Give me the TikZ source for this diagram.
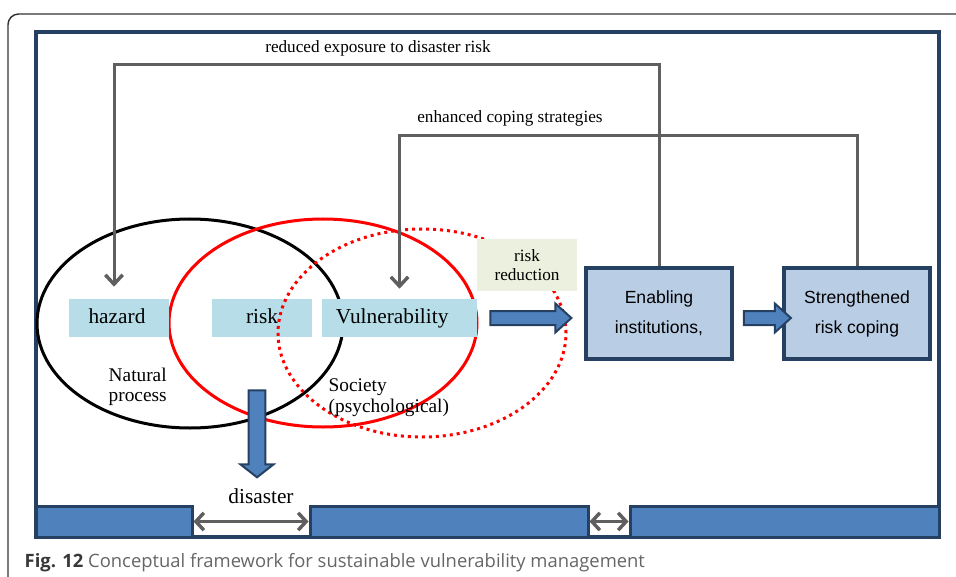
\documentclass[tikz,border=0pt]{standalone}
\usepackage{fontspec}
\setmainfont{Liberation Serif}
\setsansfont{Liberation Sans}
\newfontfamily\capfont{Open Sans}
\usetikzlibrary{arrows.meta,shapes.geometric,shapes.arrows}
\definecolor{navy}{RGB}{38,64,98}
\definecolor{barblue}{RGB}{79,129,189}
\definecolor{paleblue}{RGB}{183,222,232}
\definecolor{boxblue}{RGB}{185,205,229}
\definecolor{palegreen}{RGB}{235,241,222}
\definecolor{linegray}{RGB}{95,95,95}
\tikzset{
  tagbox/.style={fill=paleblue, minimum height=28.5pt, inner sep=0pt, text height=11pt, text depth=3.5pt, font=\fontsize{16}{18}\selectfont},
  stagebox/.style={draw=navy, fill=boxblue, line width=3pt, minimum width=109.5pt, minimum height=68.25pt, align=center, font=\sffamily\fontsize{13.2}{22.5}\selectfont},
  barbox/.style={draw=navy, fill=barblue, line width=2.25pt, minimum height=23.25pt, inner sep=0pt},
  ring/.style={ellipse, line width=2.25pt, inner sep=0pt},
  feedback/.style={draw=linegray, line width=2.25pt, -{Straight Barb[length=7pt,width=13pt,line width=2.6pt]}},
  fatarrow/.style={single arrow, draw=navy, fill=barblue, line width=1.5pt, inner sep=4.5pt},
}
\begin{document}
\begin{tikzpicture}[x=0.75pt, y=-0.75pt]
\useasboundingbox (0,0) rectangle (956,577);
% page frame and main frame
\draw[black!80, line width=1.1pt, rounded corners=8pt] (8,600) -- (8,14) -- (990,14);
\draw[navy, line width=3pt] (36,32) rectangle (939,537);

% the three spheres
\node[ring, draw=black, minimum width=229.5pt, minimum height=156.75pt] (nat) at (190,323.5) {};
\node[ring, draw=red, minimum width=231pt, minimum height=156pt] (soc) at (323,323) {};

\node[tagbox, minimum width=75pt] (haz) at (119,318) {hazard\hspace*{3pt}};
\node[tagbox, minimum width=75pt] (risk) at (262,318) {risk};
\node[tagbox, minimum width=116.25pt] (vul) at (399.5,318) {Vulnerability\hspace*{11pt}};

\node[ring, draw=red, dash pattern=on 2.25pt off 3pt, minimum width=216pt, minimum height=156pt] (psy) at (422,333) {};

\node[align=left, anchor=west, font=\fontsize{14.5}{15}\selectfont] (natlbl) at (104,387) {Natural\\process};
\node[align=left, anchor=west, font=\fontsize{14.5}{15.75}\selectfont] (soclbl) at (324,397.5) {Society\\(psychological)};

\node[fill=palegreen, minimum width=75pt, minimum height=39pt, inner sep=0pt, align=center, font=\fontsize{12.9}{14.25}\selectfont] (rr) at (527,265) {risk\\reduction};

% institutions
\node[stagebox] (enab) at (659,313.5) {Enabling\\institutions,};
\node[stagebox] (str) at (857,313.5) {Strengthened\\risk coping};

\node[fatarrow, minimum height=60.75pt, minimum width=20.25pt, single arrow head extend=5.625pt, single arrow tip angle=84] (a1) at (527,318) {};
\node[fatarrow, minimum height=35.25pt, minimum width=20.25pt, single arrow head extend=5.625pt, single arrow tip angle=84] (a2) at (763.5,318) {};
\node[fatarrow, shape border rotate=270, inner sep=5.6pt, minimum height=65.25pt, minimum width=23pt, single arrow head extend=6pt, single arrow tip angle=104] (a3) at (257,430.5) {};
\node[font=\fontsize{16}{18}\selectfont] (dis) at (261,496) {disaster};

% feedback loops
\coordinate (top1) at (0,65);
\coordinate (top2) at (0,136);
\draw[feedback] (enab.north) -- (enab.north |- top1) -| ([xshift=-3.75pt, yshift=9pt]haz.north);
\draw[feedback] (str.north) -- (str.north |- top2) -| ([yshift=7.5pt]vul.north);
\node[font=\fontsize{12.9}{15}\selectfont] (lbl1) at (378,48.5) {reduced exposure to disaster risk};
\node[font=\fontsize{12.9}{15}\selectfont] (lbl2) at (510,118) {enhanced coping strategies};

% bottom bars
\node[barbox, minimum width=117pt] (bar1) at (114,521.5) {};
\node[barbox, minimum width=208.5pt] (bar2) at (449,521.5) {};
\node[barbox, minimum width=231.75pt] (bar3) at (784.5,521.5) {};
\draw[linegray, line width=2.25pt, {Straight Barb[length=6pt,width=13pt,line width=2.6pt]}-{Straight Barb[length=6pt,width=13pt,line width=2.6pt]}] (bar1.east) -- (bar2.west);
\draw[linegray, line width=2.25pt, {Straight Barb[length=6pt,width=13pt,line width=2.6pt]}-{Straight Barb[length=6pt,width=13pt,line width=2.6pt]}] (bar2.east) -- (bar3.west);

\node[anchor=west, font=\capfont\fontsize{13.8}{15}\selectfont, text=black!60] (cap) at (20,563) {\textcolor{black!78}{\textbf{Fig. 12}} Conceptual framework for sustainable vulnerability management};
\end{tikzpicture}
\end{document}
